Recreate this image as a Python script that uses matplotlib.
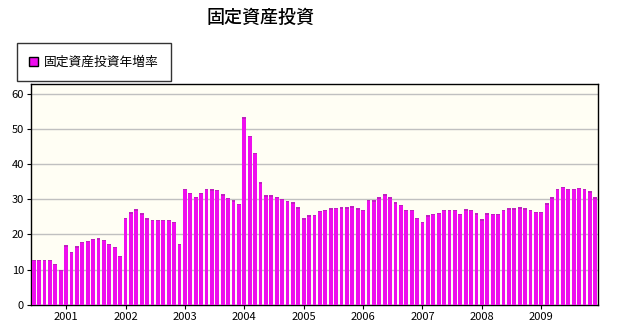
import matplotlib
matplotlib.use("Agg")
import matplotlib.pyplot as plt
import numpy as np

plt.rcParams['font.family'] = ['Noto Sans CJK JP', 'DejaVu Sans']

# monthly YTD growth (%), Jul 2000 .. Dec 2009 (no January values)
vals_2000 = [12.8, 12.9, 12.9, 12.7, 11.7, 9.9]
vals_2001 = [16.9, 15.1, 16.6, 17.8, 18.1, 18.7, 18.9, 18.5, 17.4, 16.4, 13.9]
vals_2002 = [24.7, 26.3, 27.1, 26.0, 24.6, 24.2, 24.2, 24.2, 24.2, 23.5, 17.4]
vals_2003 = [32.9, 31.7, 30.6, 31.7, 32.9, 32.8, 32.6, 31.4, 30.3, 29.7, 28.6]
vals_2004 = [53.2, 48.0, 43.1, 34.8, 31.1, 31.1, 30.6, 30.0, 29.6, 29.1, 27.7]
vals_2005 = [24.6, 25.4, 25.6, 26.6, 27.0, 27.4, 27.5, 27.7, 27.7, 28.0, 27.4]
vals_2006 = [26.9, 29.9, 29.7, 30.5, 31.4, 30.5, 29.1, 28.3, 26.9, 26.9, 24.7]
vals_2007 = [23.5, 25.4, 25.8, 26.1, 27.0, 27.0, 26.9, 25.8, 27.1, 26.9, 26.0]
vals_2008 = [24.3, 26.0, 25.8, 25.8, 26.9, 27.4, 27.4, 27.7, 27.4, 26.9, 26.4]
vals_2009 = [26.5, 28.8, 30.5, 33.0, 33.6, 33.0, 33.0, 33.2, 33.0, 32.2, 30.5]

years = ['2001', '2002', '2003', '2004', '2005', '2006', '2007', '2008', '2009']
series_name = '固定資産投資年増率'
title = '固定資産投資'

values = (vals_2000 + vals_2001 + vals_2002 + vals_2003 + vals_2004 +
          vals_2005 + vals_2006 + vals_2007 + vals_2008 + vals_2009)
x = np.arange(len(values))
year_pos = [len(vals_2000) + 11 * i for i in range(len(years))]

fig = plt.figure(figsize=(6.18, 3.30), dpi=100)
ax = fig.add_axes([0.0502, 0.0758, 0.9174, 0.6697])
ax.set_facecolor('#FFFEF4')

bars = ax.bar(x, values, width=0.72, color='#EE0EEE', edgecolor='none',
              label=series_name, zorder=3)
# darker cap on top of each bar, as in the original
ax.bar(x, [0.35] * len(values), bottom=np.array(values) - 0.35, width=0.72,
       color='#C020C0', edgecolor='none', zorder=4)

ax.set_xlim(-0.5, len(values) - 0.5)
ax.set_ylim(0, 62.7)
ax.set_yticks(range(0, 61, 10))
ax.yaxis.grid(True, color='#C0C0C0', linewidth=1, zorder=0)
ax.set_xticks(year_pos)
ax.set_xticklabels(years)
ax.tick_params(axis='both', labelsize=8, colors='black', length=3, width=0.8, pad=2)
for s in ax.spines.values():
    s.set_color('black')
    s.set_linewidth(1)

fig.text(0.421, 0.945, title, ha='center', va='center', fontsize=13,
         fontweight='medium')

leg = fig.legend(handles=[bars], labels=[series_name], loc='upper left',
                 bbox_to_anchor=(0.027, 0.87), borderaxespad=0, fontsize=9.2,
                 frameon=True, fancybox=False, edgecolor='black',
                 handlelength=0.7, handleheight=0.7, handletextpad=0.4,
                 borderpad=1.0)
leg.get_frame().set_linewidth(1)
leg.legend_handles[0].set_edgecolor('black')

fig.savefig('out.png', dpi=100)
